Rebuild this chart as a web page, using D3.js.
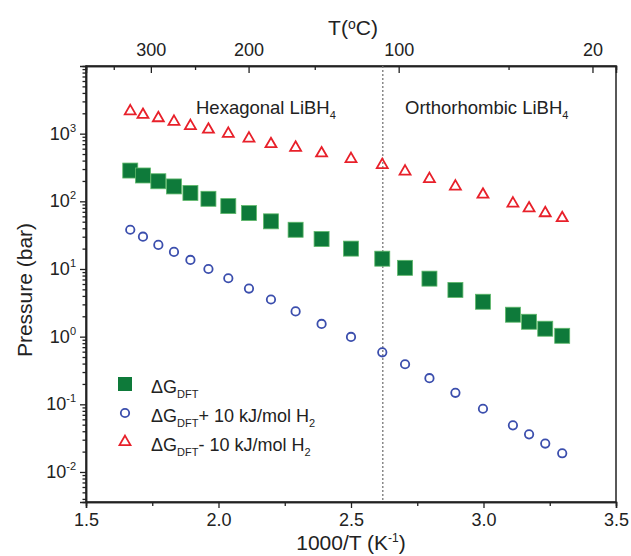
<!DOCTYPE html>
<html>
<head>
<meta charset="utf-8">
<script src="https://cdn.jsdelivr.net/npm/d3@7"></script>
<style>
  body { margin: 0; background: #fff; }
  text { font-family: "Liberation Sans", Arial, sans-serif; fill: #222; }
</style>
</head>
<body>
<div id="chart"></div>
<script>
// 1000/T values (K^-1)
const invT = [1.667, 1.715, 1.773, 1.832, 1.894, 1.962, 2.037, 2.115, 2.198, 2.291, 2.389,
              2.5, 2.618, 2.704, 2.796, 2.894, 2.998, 3.111, 3.172, 3.233, 3.297];
// pressures (bar)
const dgDft = [285, 241, 198, 166, 133, 109, 85, 67, 50.6, 38, 27.7,
               20, 14.2, 10.4, 7.2, 4.9, 3.28, 2.11, 1.66, 1.31, 1.03];
const dgPlus = [38, 30, 22.7, 17.9, 13.6, 10.0, 7.3, 5.14, 3.54, 2.36, 1.54,
                0.99, 0.587, 0.391, 0.243, 0.148, 0.086, 0.0489, 0.036, 0.0263, 0.0189];
const dgMinus = [2150, 1900, 1700, 1500, 1300, 1150, 1000, 850, 703, 622, 513,
                 423, 345, 276, 214, 166, 126, 93, 79, 67, 56.6];
const xTicks = [1.5, 2.0, 2.5, 3.0, 3.5];
const xMinor = [1.75, 2.25, 2.75, 3.25];
const yExp = [-2, -1, 0, 1, 2, 3];
const topLabels = [300, 200, 100, 20];
const topMinor = [350, 250, 150, 50];
const transition = 2.62;

const w = 631, h = 556;
const m = {left: 86, right: 15, top: 66, bottom: 54};
const svg = d3.select('#chart').append('svg')
  .attr('width', w).attr('height', h);

const x = d3.scaleLinear().domain([1.5, 3.5]).range([m.left, w - m.right]);
const y = d3.scaleLog().domain([0.0036, 1e4]).range([h - m.bottom, m.top]);

// frame
svg.append('rect')
  .attr('x', x(1.5)).attr('y', y(1e4))
  .attr('width', x(3.5) - x(1.5)).attr('height', y(0.0036) - y(1e4))
  .attr('fill', 'none').attr('stroke', '#222').attr('stroke-width', 1.5);

// bottom axis
const gx = svg.append('g').attr('transform', 'translate(0,' + y(0.0036) + ')');
gx.call(d3.axisBottom(x).tickValues(xTicks).tickFormat(d3.format('.1f')).tickSize(6).tickPadding(5));
gx.append('g').call(d3.axisBottom(x).tickValues(xMinor).tickFormat('').tickSize(4));
gx.selectAll('text').style('font-size', '18px');

// left axis
const gy = svg.append('g').attr('transform', 'translate(' + x(1.5) + ',0)');
gy.call(d3.axisLeft(y).tickValues(yExp.map(e => Math.pow(10, e))).tickFormat('').tickSize(6));
const minor = [];
for (let e = -3; e <= 3; e++) for (let k = 2; k <= 9; k++) {
  const v = k * Math.pow(10, e);
  if (v > 0.0036 && v < 1e4) minor.push(v);
}
gy.append('g').call(d3.axisLeft(y).tickValues(minor).tickFormat('').tickSize(3.5));
const yl = svg.append('g');
yExp.forEach(e => {
  const t = yl.append('text').attr('x', x(1.5) - 10).attr('y', y(Math.pow(10, e)) + 6)
    .attr('text-anchor', 'end').style('font-size', '18px');
  t.append('tspan').text('10');
  t.append('tspan').attr('dy', -8).style('font-size', '11px').text(e);
});

// top axis in degrees C
const toInv = c => 1000 / (c + 273.15);
const gt = svg.append('g').attr('transform', 'translate(0,' + y(1e4) + ')');
gt.call(d3.axisTop(x).tickValues(topLabels.map(toInv))
  .tickFormat((d, i) => topLabels[i]).tickSize(-7).tickPadding(10));
gt.append('g').call(d3.axisTop(x).tickValues(topMinor.map(toInv)).tickFormat('').tickSize(-4));
gt.selectAll('text').style('font-size', '18px');
svg.selectAll('.domain').attr('stroke', '#222').attr('stroke-width', 1.5);
svg.selectAll('.tick line').attr('stroke', '#222').attr('stroke-width', 1.3);

// transition line
svg.append('line')
  .attr('x1', x(transition)).attr('x2', x(transition))
  .attr('y1', y(1e4)).attr('y2', y(0.0036))
  .attr('stroke', '#777').attr('stroke-width', 1.3).attr('stroke-dasharray', '2,2');

// axis titles
svg.append('text').attr('x', (x(1.5) + x(3.5)) / 2).attr('y', 550)
  .attr('text-anchor', 'middle').style('font-size', '21px')
  .html('1000/T (K<tspan dy="-8" font-size="12px">-1</tspan><tspan dy="8">)</tspan>');
svg.append('text').attr('transform', 'translate(32,' + 290 + ') rotate(-90)')
  .attr('text-anchor', 'middle').style('font-size', '21px').text('Pressure (bar)');
svg.append('text').attr('x', 353).attr('y', 35)
  .attr('text-anchor', 'middle').style('font-size', '21px')
  .html('T(<tspan dy="-6" font-size="14px">o</tspan><tspan dy="6">C)</tspan>');

// phase labels
svg.append('text').attr('x', 196).attr('y', 114).style('font-size', '18.5px')
  .html('Hexagonal LiBH<tspan dy="5" font-size="11px">4</tspan>');
svg.append('text').attr('x', 405).attr('y', 114).style('font-size', '18.5px')
  .html('Orthorhombic LiBH<tspan dy="5" font-size="11px">4</tspan>');

// data
const red = '#e8202a', blue = '#3b4ead', green = '#0e7a3a';
const tri = d3.symbol(d3.symbolTriangle, 52);
svg.append('g').selectAll('path').data(dgMinus).enter().append('path')
  .attr('d', tri)
  .attr('transform', (d, i) => 'translate(' + x(invT[i]) + ',' + y(d) + ')')
  .attr('fill', 'none').attr('stroke', red).attr('stroke-width', 1.8);
svg.append('g').selectAll('circle').data(dgPlus).enter().append('circle')
  .attr('cx', (d, i) => x(invT[i])).attr('cy', d => y(d)).attr('r', 4.2)
  .attr('fill', 'none').attr('stroke', blue).attr('stroke-width', 1.8);
svg.append('g').selectAll('rect').data(dgDft).enter().append('rect')
  .attr('x', (d, i) => x(invT[i]) - 7.5).attr('y', d => y(d) - 7.5)
  .attr('width', 15).attr('height', 15)
  .attr('fill', green).attr('stroke', '#5fb86a').attr('stroke-width', 0.8);

// legend
const leg = svg.append('g');
leg.append('rect').attr('x', 118).attr('y', 377).attr('width', 14).attr('height', 14)
  .attr('fill', green);
leg.append('circle').attr('cx', 125).attr('cy', 413).attr('r', 4.2)
  .attr('fill', 'none').attr('stroke', blue).attr('stroke-width', 1.8);
leg.append('path').attr('d', tri).attr('transform', 'translate(125,442)')
  .attr('fill', 'none').attr('stroke', red).attr('stroke-width', 1.8);
const legText = ['', '+ 10 kJ/mol H', '- 10 kJ/mol H'];
legText.forEach((s, i) => {
  const t = leg.append('text').attr('x', 151).attr('y', 393 + i * 28.8).style('font-size', '18px');
  t.append('tspan').text('\u0394G');
  t.append('tspan').attr('dy', 5).style('font-size', '11px').text('DFT');
  if (s) {
    t.append('tspan').attr('dy', -5).text(s);
    t.append('tspan').attr('dy', 5).style('font-size', '11px').text('2');
  }
});
</script>
</body>
</html>
